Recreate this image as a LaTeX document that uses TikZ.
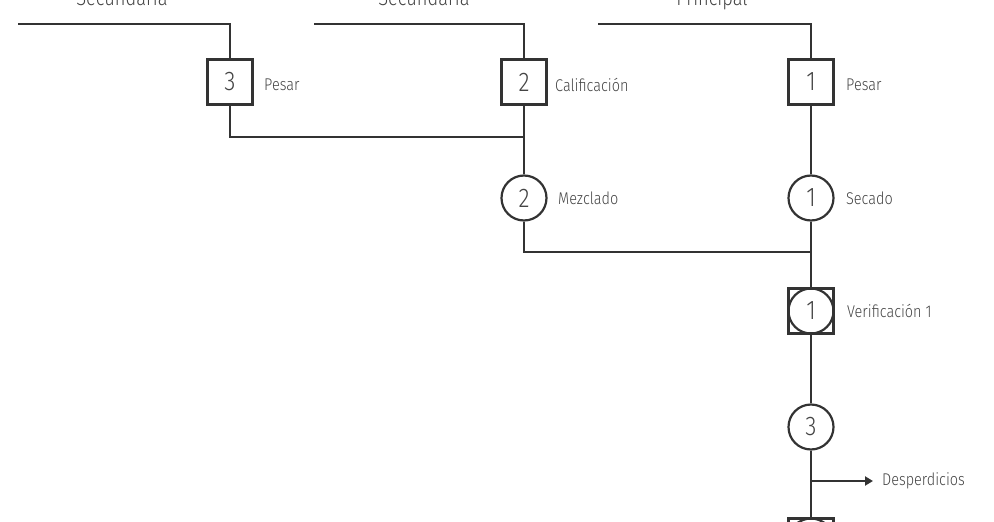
\documentclass[tikz,border=0pt]{standalone}
\usepackage{fontspec}
\setmainfont{Fira Sans}[UprightFont=* Light, FakeStretch=0.85]
\usetikzlibrary{arrows.meta}
\definecolor{ink}{HTML}{333333}
\definecolor{txt}{HTML}{444444}
\tikzset{
  flow/.style={draw=ink, line width=2.2pt},
  opbox/.style={draw=ink, line width=2.2pt, rectangle, minimum size=45pt, inner sep=0pt, text=txt, font=\fontsize{27}{27}\selectfont},
  opcirc/.style={draw=ink, line width=2.2pt, circle, minimum size=45pt, inner sep=0pt, text=txt, font=\fontsize{27}{27}\selectfont},
  opboth/.style={opbox, path picture={\draw[ink, line width=2.2pt] (path picture bounding box.center) circle (22.5pt);}},
  lbl/.style={anchor=west, text=txt, inner sep=0pt, font=\fontsize{17}{17}\selectfont},
  ttl/.style={anchor=base, text=txt, inner sep=0pt, font=\fontsize{21.5}{21.5}\selectfont}
}
\begin{document}
\begin{tikzpicture}[x=1pt,y=-1pt]
\useasboundingbox (0,0) rectangle (994,522);
% titles (cut off at top, as in the reference)
\node[ttl] (t1) at (122,5.5) {Secundaria};
\node[ttl] (t2) at (424,5.5) {Secundaria};
\node[ttl] (t3) at (712,5.5) {Principal};
% start coordinates
\coordinate (s1) at (18,24);
\coordinate (s2) at (314,24);
\coordinate (s3) at (598,24);
% nodes
\node[opbox] (b3) at (230,82) {3};
\node[opbox] (b2) at (524,82) {2};
\node[opbox] (b1) at (811,82) {1};
\node[opcirc] (c2) at (524,198) {2};
\node[opcirc] (c1) at (811,198) {1};
\node[opboth] (v1) at (811,311) {1};
\node[opcirc] (c3) at (811,427) {3};
\node[opboth] (v2) at (811,541) {};
\coordinate (j1) at (524,137);
\coordinate (j2) at (811,252);
\coordinate (w0) at (811,481);
\coordinate (w1) at (873,481);
% labels
\node[lbl] (l1) at (264,85) {Pesar};
\node[lbl] (l2) at (555,85) {Calificación};
\node[lbl] (l3) at (846,85) {Pesar};
\node[lbl] (l4) at (558,198) {Mezclado};
\node[lbl] (l5) at (846,198) {Secado};
\node[lbl] (l6) at (847,311) {Verificación 1};
\node[lbl] (l7) at (882,481) {Desperdicios};
% connectors
\draw[flow] (s1) -| (b3.north);
\draw[flow] (s2) -| (b2.north);
\draw[flow] (s3) -| (b1.north);
\draw[flow] (b3.south) |- (j1);
\draw[flow] (b2.south) -- (c2.north);
\draw[flow] (b1.south) -- (c1.north);
\draw[flow] (c2.south) |- (j2);
\draw[flow] (c1.south) -- (v1.north);
\draw[flow] (v1.south) -- (c3.north);
\draw[flow] (c3.south) -- (v2.north);
\draw[flow, -{Triangle[length=8pt,width=9pt]}] (w0) -- (w1);
\end{tikzpicture}
\end{document}
